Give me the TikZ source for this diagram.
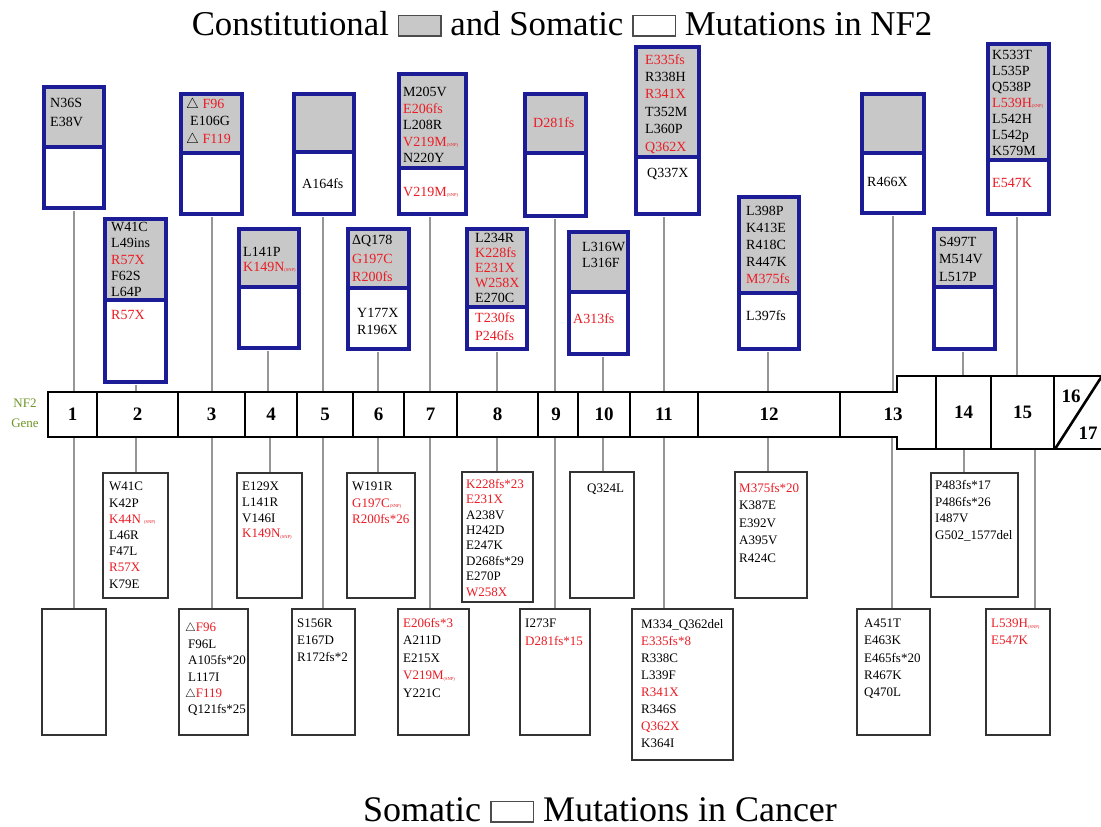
\documentclass[tikz,border=0pt]{standalone}
\usepackage{fontspec}
\setmainfont{Liberation Serif}
\definecolor{navy}{RGB}{28,28,150}
\definecolor{cellgray}{RGB}{200,200,200}
\definecolor{mutred}{RGB}{235,28,36}
\definecolor{genegreen}{RGB}{110,150,40}
\definecolor{connector}{RGB}{150,150,150}
\newcommand{\R}[1]{\textcolor{mutred}{#1}}
\newcommand{\hm}{\raisebox{-0.5pt}{\fontsize{4.5}{5}\selectfont(SNP)}}
\newcommand{\tri}{$\triangle$}
\newcommand{\legbox}[1]{{\setlength{\fboxsep}{0pt}\setlength{\fboxrule}{1.5pt}\fcolorbox{black!70}{#1}{\rule{0pt}{19pt}\rule{41pt}{0pt}}}}
\newcommand{\topbox}[6]{%
  \node[gcell, minimum width={(#4-#2)*1pt}, minimum height={(#5-#3)*1pt}] (#1-g) at (#2,#3) {};
  \node[wcell, minimum width={(#4-#2)*1pt}, minimum height={(#6-#5)*1pt}] (#1-w) at (#2,#5) {};
  \draw[sepline] (#1-g.south west) -- (#1-g.south east);
  \draw[bframe] ([shift={(1.5,1.5)}]#1-g.north west) rectangle ([shift={(-1.5,-1.5)}]#1-w.south east);
}
\newcommand{\lbox}[5]{%
  \node[lowbox, minimum width={(#4-#2)*1pt}, minimum height={(#5-#3)*1pt}] (#1) at (#2,#3) {};
}
\newcommand{\mut}[6]{%
  \node[mtxt, font=\fontsize{#5}{#4}\selectfont] (#1) at (#2,#3-5) {#6};
}
\begin{document}
\begin{tikzpicture}[x=1pt,y=-1pt,
  gcell/.style={fill=cellgray, draw=none, inner sep=0pt, outer sep=0pt, anchor=north west},
  wcell/.style={fill=white, draw=none, inner sep=0pt, outer sep=0pt, anchor=north west},
  bframe/.style={draw=navy, line width=4pt},
  sepline/.style={draw=navy, line width=3.5pt},
  lowbox/.style={draw=black!80, line width=1.8pt, fill=white, inner sep=0pt, outer sep=0pt, anchor=north west},
  mtxt/.style={anchor=north west, inner sep=0pt, align=left},
  conn/.style={draw=connector, line width=1.4pt},
  exon/.style={inner sep=0pt, outer sep=0pt, minimum height=45pt, font=\fontsize{19}{20}\selectfont\bfseries},
  wide/.style={minimum height=73pt},
  barline/.style={draw=black, line width=2.6pt},
  big/.style={inner sep=0pt, anchor=base, font=\fontsize{36}{40}\selectfont}
]
\useasboundingbox (0,0) rectangle (1101,827);
\fill[white] (0,0) rectangle (1101,827);

% titles
\node[big, font=\fontsize{34.8}{40}\selectfont] (title) at (562,35) {Constitutional \legbox{cellgray} and Somatic \legbox{white} Mutations in NF2};
\node[big] (caption) at (600,821) {Somatic \legbox{white} Mutations in Cancer};

% gene label
\node[text=genegreen, font=\fontsize{13}{14}\selectfont, inner sep=0pt] (nf2) at (25,403) {NF2};
\node[text=genegreen, font=\fontsize{13}{14}\selectfont, inner sep=0pt] (gene) at (25,423) {Gene};

% exon nodes
\node[exon, minimum width=49pt] (e1) at (72.5,414.5) {1};
\node[exon, minimum width=81pt] (e2) at (137.5,414.5) {2};
\node[exon, minimum width=67pt] (e3) at (211.5,414.5) {3};
\node[exon, minimum width=52pt] (e4) at (271,414.5) {4};
\node[exon, minimum width=56pt] (e5) at (325,414.5) {5};
\node[exon, minimum width=51pt] (e6) at (378.5,414.5) {6};
\node[exon, minimum width=53pt] (e7) at (430.5,414.5) {7};
\node[exon, minimum width=81pt] (e8) at (497.5,414.5) {8};
\node[exon, minimum width=40pt] (e9) at (556,414.5) {9};
\node[exon, minimum width=52pt] (e10) at (604,414.5) {10};
\node[exon, minimum width=68pt] (e11) at (664,414.5) {11};
\node[exon, minimum width=142pt] (e12) at (769,414.5) {12};
\node[exon, minimum width=86pt] (e13) at (893,414.5) {13};
\node[exon, wide, minimum width=55pt] (e14) at (963.5,412.5) {14};
\node[exon, wide, minimum width=63pt] (e15) at (1022.5,412.5) {15};
\node[exon, minimum height=0pt] (e16) at (1071,396) {16};
\node[exon, minimum height=0pt] (e17) at (1088,433) {17};

% connector anchor coordinates
\foreach \i/\xt/\xb in {1/74/74, 2/136/136, 3/212/212, 4/268/270, 5/323/323,
   6/378/378, 7/430/430, 8/497/497, 9/555/555, 10/603/603, 11/664/664,
   12/768/768, 13/893/892, 14/963/964, 15/1017/1035}{
  \coordinate (ct\i) at (\xt,0);
  \coordinate (cb\i) at (\xb,0);
}

% lower boxes
\lbox{m2}{103}{473}{168}{598}
\lbox{m4}{237}{473}{302}{598}
\lbox{m6}{347}{473}{415}{598}
\lbox{m8}{462}{472}{533}{602}
\lbox{m10}{570}{472}{634}{598}
\lbox{m12}{735}{472}{807}{598}
\lbox{m14}{931}{473}{1018}{597}
\lbox{b1}{42}{609}{106}{735}
\lbox{b3}{179}{609}{248}{735}
\lbox{b5}{292}{609}{355}{735}
\lbox{b7}{398}{609}{469}{735}
\lbox{b9}{520}{609}{590}{735}
\lbox{b11}{632}{609}{733}{760}
\lbox{b13}{857}{609}{930}{735}
\lbox{b15}{986}{609}{1050}{735}

% top boxes
\topbox{t1}{42}{85}{105}{147}{209}
\topbox{t2}{103}{217}{167}{300}{383}
\topbox{t3}{179}{92}{243}{153}{215}
\topbox{t4}{237}{227}{300}{287}{349}
\topbox{t5}{292}{92}{355}{152}{215}
\topbox{t6}{346}{227}{410}{288}{350}
\topbox{t7}{397}{72}{467}{168}{215}
\topbox{t8}{465}{227}{528}{307}{350}
\topbox{t9}{523}{92}{587}{153}{217}
\topbox{t10}{567}{230}{629}{292}{355}
\topbox{t11}{634}{45}{700}{157}{215}
\topbox{t12}{737}{195}{800}{293}{350}
\topbox{t13}{860}{92}{925}{153}{214}
\topbox{t14}{932}{227}{996}{287}{350}
\topbox{t15}{986}{42}{1050}{160}{215}

% connector lines
\foreach \i/\low in {1/b1, 2/m2, 3/b3, 4/m4, 5/b5, 6/m6, 7/b7, 8/m8, 9/b9, 10/m10, 11/b11, 12/m12, 13/b13, 14/m14, 15/b15}{
  \draw[conn] ([yshift=-2pt]t\i-w.south -| ct\i) -- (e\i.north -| ct\i);
  \draw[conn] (e\i.south -| cb\i) -- ([yshift=1pt]\low.north -| cb\i);
}

% gene bar
\draw[barline] (1110,376) -- (897,376) -- (897,392) -- (48,392) -- (48,437) -- (897,437) -- (897,449) -- (1110,449);
\foreach \x in {97,178,245,297,353,404,457,538,578,630,698,840}{
  \draw[barline] (\x,392) -- (\x,437);
}
\foreach \x in {936,991,1054}{
  \draw[barline] (\x,376) -- (\x,449);
}
\draw[barline] (1055,449) -- (1102,376);

% texts in top boxes
\mut{t1-gt}{50}{103}{19}{14}{N36S\\E38V}
\mut{t2-gt}{111}{227}{16.3}{14}{W41C\\L49ins\\\R{R57X}\\F62S\\L64P}
\mut{t2-wt}{111}{315}{16}{14}{\R{R57X}}
\mut{t3-gt}{186}{103}{17.5}{14}{\tri\ \R{F96}\\\hspace{4pt}E106G\\\tri\ \R{F119}}
\mut{t4-gt}{243}{252}{15}{14}{L141P\\\R{K149N\hm}}
\mut{t5-wt}{302}{183}{16}{14}{A164fs}
\mut{t6-gt}{352}{240}{18.5}{14}{ΔQ178\\\R{G197C}\\\R{R200fs}}
\mut{t6-wt}{357}{313}{17}{14}{Y177X\\R196X}
\mut{t7-gt}{403}{92}{16.5}{14}{M205V\\\R{E206fs}\\L208R\\\R{V219M\hm}\\N220Y}
\mut{t7-wt}{403}{192}{16}{14}{\R{V219M\hm}}
\mut{t8-gt}{475}{238}{15}{14}{L234R\\\R{K228fs}\\\R{E231X}\\\R{W258X}\\E270C}
\mut{t8-wt}{475}{317}{18}{14}{\R{T230fs}\\\R{P246fs}}
\mut{t9-gt}{533}{122}{16}{14}{\R{D281fs}}
\mut{t10-gt}{582}{247}{16}{14}{L316W\\L316F}
\mut{t10-wt}{573}{318}{16}{14}{\R{A313fs}}
\mut{t11-gt}{645}{59}{17.4}{14}{\R{E335fs}\\R338H\\\R{R341X}\\T352M\\L360P\\\R{Q362X}}
\mut{t11-wt}{647}{173}{16}{14}{Q337X}
\mut{t12-gt}{746}{211}{17}{14}{L398P\\K413E\\R418C\\R447K\\\R{M375fs}}
\mut{t12-wt}{746}{315}{16}{14}{L397fs}
\mut{t13-wt}{867}{182}{16}{14}{R466X}
\mut{t14-gt}{939}{242}{17.5}{14}{S497T\\M514V\\L517P}
\mut{t15-gt}{992}{55}{16}{14}{K533T\\L535P\\Q538P\\\R{L539H\hm}\\L542H\\L542p\\K579M}
\mut{t15-wt}{992}{183}{16}{14}{\R{E547K}}

% texts in middle row
\mut{m2-t}{109}{487}{16.2}{13}{W41C\\K42P\\\R{K44N \hm}\\L46R\\F47L\\\R{R57X}\\K79E}
\mut{m4-t}{242}{487}{15.7}{13}{E129X\\L141R\\V146I\\\R{K149N\hm}}
\mut{m6-t}{352}{487}{16.5}{13}{W191R\\\R{G197C\hm}\\\R{R200fs*26}}
\mut{m8-t}{466}{484}{15.4}{13}{\R{K228fs*23}\\\R{E231X}\\A238V\\H242D\\E247K\\D268fs*29\\E270P\\\R{W258X}}
\mut{m10-t}{587}{489}{16}{13}{Q324L}
\mut{m12-t}{739}{488}{17.5}{13}{\R{M375fs*20}\\K387E\\E392V\\A395V\\R424C}
\mut{m14-t}{935}{485}{16.7}{13}{P483fs*17\\P486fs*26\\I487V\\G502\_1577del}

% texts in bottom row
\mut{b3-t}{185}{628}{16.4}{13}{\tri\R{F96}\\\hspace{3pt}F96L\\\hspace{3pt}A105fs*20\\\hspace{3pt}L117I\\\tri\R{F119}\\\hspace{3pt}Q121fs*25}
\mut{b5-t}{297}{624}{17}{13}{S156R\\E167D\\R172fs*2}
\mut{b7-t}{403}{623}{17.5}{13}{\R{E206fs*3}\\A211D\\E215X\\\R{V219M\hm}\\Y221C}
\mut{b9-t}{525}{624}{18}{13}{I273F\\\R{D281fs*15}}
\mut{b11-t}{641}{624}{17.1}{13}{M334\_Q362del\\\R{E335fs*8}\\R338C\\L339F\\\R{R341X}\\R346S\\\R{Q362X}\\K364I}
\mut{b13-t}{864}{624}{17.2}{13}{A451T\\E463K\\E465fs*20\\R467K\\Q470L}
\mut{b15-t}{991}{624}{17}{13}{\R{L539H\hm}\\\R{E547K}}
\end{tikzpicture}
\end{document}
